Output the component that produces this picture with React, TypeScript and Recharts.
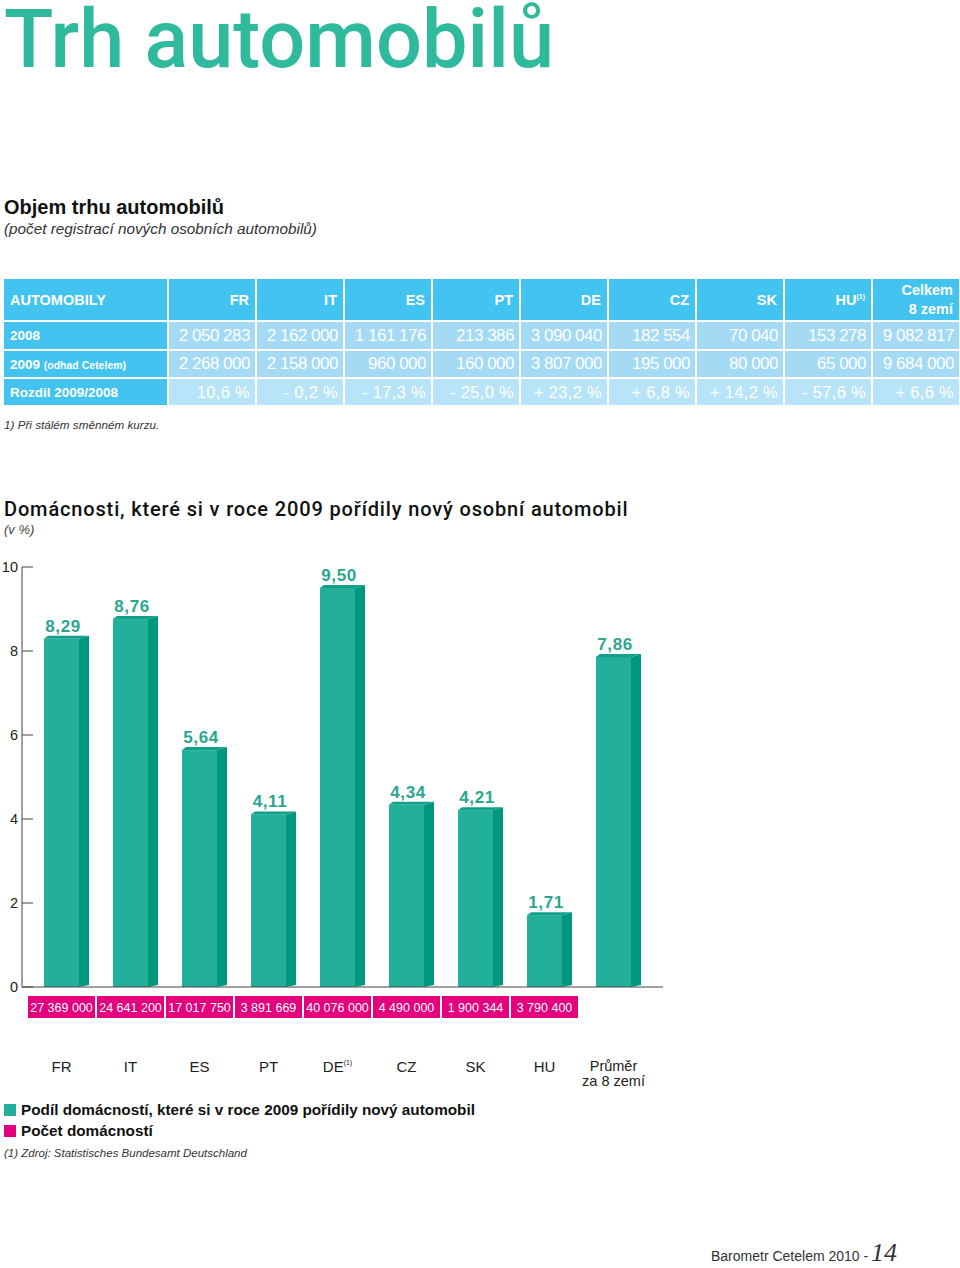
import React from 'react'
import { Bar, BarChart, LabelList, Legend, XAxis, YAxis } from 'recharts'

// table: car market
const tableCols = ['FR', 'IT', 'ES', 'PT', 'DE', 'CZ', 'SK', 'HU']
const cars2008 = [2050283, 2162000, 1161176, 213386, 3090040, 182554, 70040, 153278, 9082817]
const cars2009 = [2268000, 2158000, 960000, 160000, 3807000, 195000, 80000, 65000, 9684000]
const carsDiff = ['10,6 %', '- 0,2 %', '- 17,3 %', '- 25,0 %', '+ 23,2 %', '+ 6,8 %', '+ 14,2 %', '- 57,6 %', '+ 6,6 %']

// chart: households
const countries = ['FR', 'IT', 'ES', 'PT', 'DE', 'CZ', 'SK', 'HU', 'Průměr']
const shareNewCar = [8.29, 8.76, 5.64, 4.11, 9.5, 4.34, 4.21, 1.71, 7.86]
const households = [27369000, 24641200, 17017750, 3891669, 40076000, 4490000, 1900344, 3790400]
const yTicks = [0, 2, 4, 6, 8, 10]

const TEAL = '#22b09a'
const TEAL_SIDE = '#00977f'
const TEAL_TOP = '#10a08a'
const LABEL_TEAL = '#2aa68f'
const PINK = '#e5007d'
const BLUE = '#43c3ef'
const BLUE_LIGHT = '#a4daf4'
const BLUE_LIGHTER = '#b7e4f8'
const FONT = '"Liberation Sans", Arial, sans-serif'

const chartData = countries.map((c, i) => ({ country: c, share: shareNewCar[i] }))

const fmtInt = (n: number) => n.toString().replace(/\B(?=(\d{3})+(?!\d))/g, ' ')
const fmtDec = (v: number) => v.toFixed(2).replace('.', ',')

const Bar3D = (props: any) => {
  const { x, y, width, height } = props
  const c = x + width / 2
  const x0 = c - 18
  const x1 = c + 17
  const x2 = c + 27
  const top = y
  const bottom = y + height
  return (
    <g>
      <rect x={x0} y={top} width={x1 - x0} height={bottom - top} fill={TEAL} />
      <polygon points={`${x1},${top} ${x2},${top - 3} ${x2},${bottom - 2} ${x1},${bottom}`} fill={TEAL_SIDE} />
      <polygon points={`${x0},${top} ${x0 + 4},${top - 3} ${x2},${top - 3} ${x1},${top}`} fill={TEAL_TOP} />
    </g>
  )
}

const ValueLabel = (p: any) => (
  <text x={p.x + p.width / 2 + 1} y={p.y - 7} textAnchor="middle" fill={LABEL_TEAL}
    fontFamily={FONT} fontWeight="bold" fontSize={17} letterSpacing={0.6}>
    {fmtDec(Number(p.value))}
  </text>
)

const YTick = (props: any) => {
  const { x, y, payload } = props
  return (
    <g>
      <line x1={x} x2={x + 11} y1={y} y2={y} stroke="#444" />
      <text x={x - 4} y={y + 5} textAnchor="end" fontFamily={FONT} fontSize={14.5} fill="#222">{payload.value}</text>
    </g>
  )
}

const CountryTick = (props: any) => {
  const { x, y, index } = props
  const n = households[index]
  const name = countries[index]
  return (
    <g fontFamily={FONT}>
      {n !== undefined && (
        <g>
          <rect x={x - 33.5} y={y + 9} width={67} height={22} fill={PINK} />
          <text x={x} y={y + 24.5} textAnchor="middle" fill="#fff" fontSize={12.5}>{fmtInt(n)}</text>
        </g>
      )}
      {name === 'Průměr' ? (
        <text x={x} y={y + 84} textAnchor="middle" fontSize={14.5} fill="#222">
          <tspan x={x}>Průměr</tspan>
          <tspan x={x} dy={15}>za 8 zemí</tspan>
        </text>
      ) : (
        <text x={x} y={y + 85} textAnchor="middle" fontSize={15} fill="#222">
          {name}
          {name === 'DE' && <tspan fontSize={7} dy={-7}>(1)</tspan>}
        </text>
      )}
    </g>
  )
}

const legendItems = [
  { label: 'Podíl domácností, které si v roce 2009 pořídily nový automobil', color: TEAL },
  { label: 'Počet domácností', color: PINK },
]

const LegendBox = () => (
  <div style={{ height: 76, textAlign: 'left', fontFamily: FONT, paddingLeft: 4 }}>
    {legendItems.map((it) => (
      <div key={it.label} style={{ height: 21, display: 'flex', alignItems: 'center' }}>
        <span style={{ width: 12, height: 12, background: it.color, display: 'inline-block', marginRight: 5 }} />
        <span style={{ fontSize: 15.3, fontWeight: 'bold', color: '#111' }}>{it.label}</span>
      </div>
    ))}
    <div style={{ marginTop: 4, lineHeight: '16px', fontSize: 11.5, fontStyle: 'italic', color: '#333' }}>
      (1) Zdroj: Statistisches Bundesamt Deutschland
    </div>
  </div>
)

const th: React.CSSProperties = {
  background: BLUE, color: '#fff', fontWeight: 'bold', fontSize: 14.5, textAlign: 'right',
  padding: '0 6px', height: 41,
}
const rowHead: React.CSSProperties = {
  background: BLUE, color: '#fff', fontWeight: 'bold', fontSize: 13.5, textAlign: 'left', padding: '0 6px',
}
const td: React.CSSProperties = {
  background: BLUE_LIGHT, color: '#fff', fontSize: 17, textAlign: 'right', padding: '0 5px 0 2px',
  letterSpacing: -0.5, whiteSpace: 'nowrap',
}

const CarTable = () => (
  <table style={{ position: 'absolute', left: 2, top: 277, borderCollapse: 'separate', borderSpacing: 2, fontFamily: FONT, tableLayout: 'fixed', width: 957 }}>
    <colgroup>
      <col style={{ width: 163 }} />
      {[...tableCols, 'all'].map((c) => <col key={c} style={{ width: 86 }} />)}
    </colgroup>
    <tbody>
      <tr>
        <td style={{ ...th, textAlign: 'left' }}>AUTOMOBILY</td>
        {tableCols.map((c) => (
          <td key={c} style={th}>{c}{c === 'HU' && <sup style={{ fontSize: 7 }}>(1)</sup>}</td>
        ))}
        <td style={{ ...th, lineHeight: '19px' }}>Celkem<br />8 zemí</td>
      </tr>
      <tr style={{ height: 27 }}>
        <td style={rowHead}>2008</td>
        {cars2008.map((v, i) => <td key={i} style={td}>{fmtInt(v)}</td>)}
      </tr>
      <tr style={{ height: 26 }}>
        <td style={rowHead}>2009 <span style={{ fontSize: 10.5 }}>(odhad Cetelem)</span></td>
        {cars2009.map((v, i) => <td key={i} style={td}>{fmtInt(v)}</td>)}
      </tr>
      <tr style={{ height: 26 }}>
        <td style={rowHead}>Rozdil 2009/2008</td>
        {carsDiff.map((v, i) => <td key={i} style={{ ...td, background: BLUE_LIGHTER, fontSize: 16.5, letterSpacing: 0.3 }}>{v}</td>)}
      </tr>
    </tbody>
  </table>
)

export default function App() {
  return (
    <div style={{ position: 'absolute', left: 0, top: 0, width: 960, height: 1268, background: '#fff', fontFamily: FONT, color: '#111', overflow: 'hidden' }}>
      <svg width={960} height={80} style={{ position: 'absolute', left: 0, top: 0 }}>
        <text x={4} y={67} fontFamily="Roboto" fontWeight={500} fontSize={81} fill="#2fb99d"
          textLength={550} lengthAdjust="spacingAndGlyphs">Trh automobilů</text>
      </svg>

      <div style={{ position: 'absolute', left: 4, top: 196, fontSize: 20, fontWeight: 'bold' }}>Objem trhu automobilů</div>
      <div style={{ position: 'absolute', left: 4, top: 220, fontSize: 15.3, fontStyle: 'italic', color: '#333' }}>
        (počet registrací nových osobních automobilů)
      </div>

      <CarTable />

      <div style={{ position: 'absolute', left: 4, top: 418, fontSize: 11.7, fontStyle: 'italic', color: '#333' }}>
        1) Při stálém směnném kurzu.
      </div>

      <div style={{ position: 'absolute', left: 4, top: 497, fontSize: 20, fontFamily: 'Roboto', fontWeight: 500, letterSpacing: 0.85, color: '#111', whiteSpace: 'nowrap' }}>
        Domácnosti, které si v roce 2009 pořídily nový osobní automobil
      </div>
      <div style={{ position: 'absolute', left: 4, top: 522, fontSize: 13, fontStyle: 'italic', color: '#444' }}>(v %)</div>

      <div style={{ position: 'absolute', left: 0, top: 555 }}>
        <BarChart width={680} height={620} data={chartData} margin={{ top: 12, right: 17, bottom: 0, left: 0 }}>
          <XAxis dataKey="country" height={112} tickLine={false} tickSize={0} tickMargin={0}
            axisLine={{ stroke: '#444' }} padding={{ left: 5, right: 15 }} tick={<CountryTick />} interval={0} />
          <YAxis width={22} domain={[0, 10]} ticks={yTicks} tickLine={false} tickSize={0} tickMargin={0}
            axisLine={{ stroke: '#444' }} tick={<YTick />} />
          <Legend verticalAlign="bottom" align="left" content={() => <LegendBox />} />
          <Bar dataKey="share" barSize={46} fill={TEAL} shape={<Bar3D />} isAnimationActive={false}>
            <LabelList dataKey="share" content={<ValueLabel />} />
          </Bar>
        </BarChart>
      </div>

      <svg width={960} height={50} style={{ position: 'absolute', left: 0, top: 1218 }}>
        <text x={711} y={43} fontFamily={FONT} fontSize={14} fill="#333">Barometr Cetelem 2010 -</text>
        <text x={871} y={43} fontFamily='"Liberation Serif", serif' fontStyle="italic" fontSize={26} fill="#333">14</text>
      </svg>
    </div>
  )
}
